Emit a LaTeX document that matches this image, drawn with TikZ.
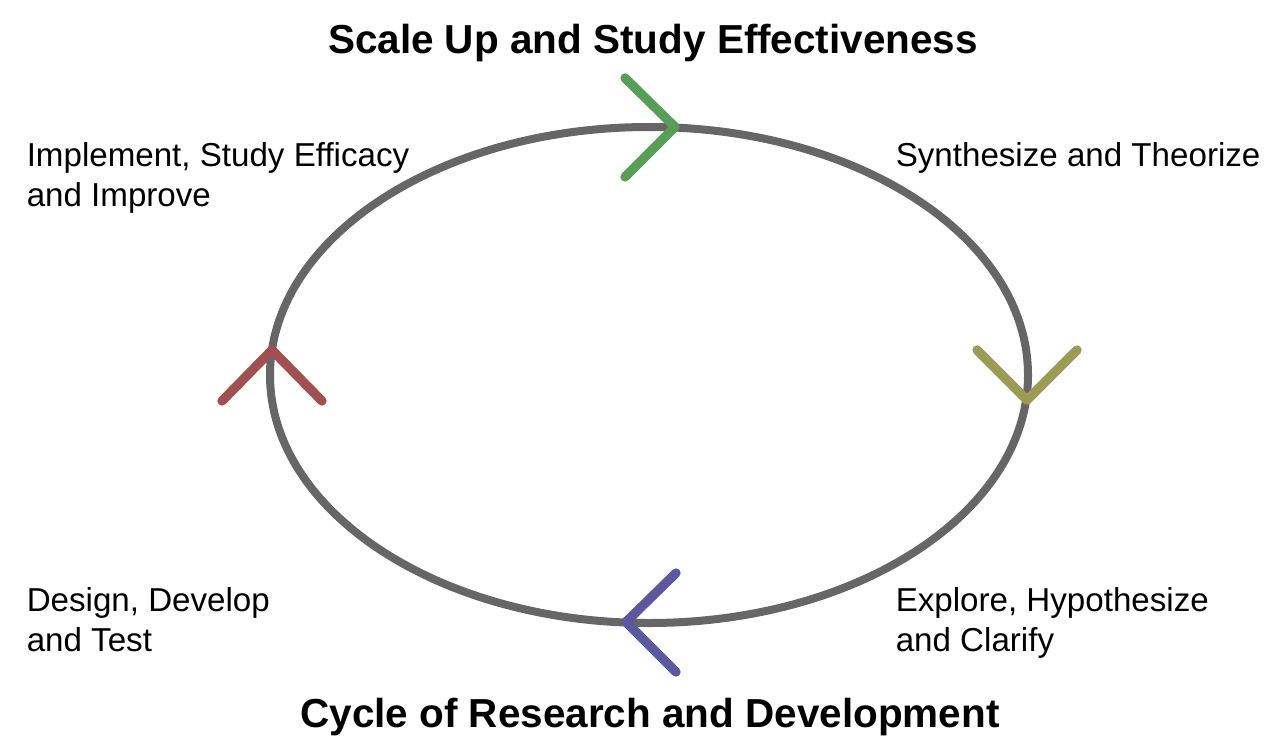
\documentclass[tikz,border=0pt]{standalone}
\usepackage{fontspec}
\setmainfont{Liberation Sans}
\definecolor{ringgray}{RGB}{102,102,102}
\definecolor{cgreen}{RGB}{88,158,88}
\definecolor{colive}{RGB}{155,155,85}
\definecolor{cblue}{RGB}{92,88,160}
\definecolor{cred}{RGB}{160,80,80}
\begin{document}
\begin{tikzpicture}[x=0.75pt,y=-0.75pt,
  lbl/.style={inner sep=0pt,anchor=base west,font=\fontsize{24.85}{30}\selectfont},
  ttl/.style={inner sep=0pt,anchor=base,font=\fontsize{30.35}{36}\selectfont\bfseries},
  chev/.style={line width=7pt,line cap=round,line join=round}]
\useasboundingbox (0,0) rectangle (1280,747);
\draw[ringgray,line width=6pt] (649,375) ellipse [x radius=379, y radius=248];
% chevrons
\coordinate (gt) at (675,127);
\draw[chev,cgreen] (625,78) -- (gt) -- (625,177);
\coordinate (ot) at (1027,400);
\draw[chev,colive] (977,350) -- (ot) -- (1077,350);
\coordinate (bt) at (626,622);
\draw[chev,cblue] (676,573) -- (bt) -- (676,672);
\coordinate (rt) at (272,350);
\draw[chev,cred] (222,401) -- (rt) -- (322,401);
% labels
\node[ttl] (top) at (653,53) {Scale Up and Study Effectiveness};
\node[ttl] (bot) at (650,727) {Cycle of Research and Development};
\node[lbl] (impl1) at (26.5,166) {Implement, Study Efficacy};
\node[lbl] (impl2) at (26.5,206) {and Improve};
\node[lbl] (syn) at (895.5,166) {Synthesize and Theorize};
\node[lbl] (exp1) at (895.5,611) {Explore, Hypothesize};
\node[lbl] (exp2) at (895.5,651) {and Clarify};
\node[lbl] (des1) at (26.5,611) {Design, Develop};
\node[lbl] (des2) at (26.5,651) {and Test};
\end{tikzpicture}
\end{document}
